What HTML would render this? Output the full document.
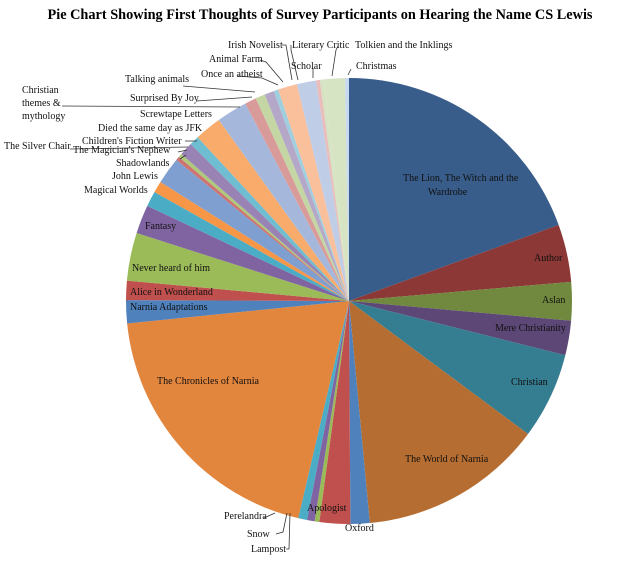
<!DOCTYPE html>
<html><head><meta charset="utf-8"><style>
html,body{margin:0;padding:0;background:#fff;}
svg{display:block;font-family:"Liberation Serif",serif;}
</style></head><body>
<svg id="chart" width="640" height="565" viewBox="0 0 640 565">
<rect width="640" height="565" fill="#fff"/>
<text x="320" y="19" text-anchor="middle" font-size="14.3" font-weight="bold">Pie Chart Showing First Thoughts of Survey Participants on Hearing the Name CS Lewis</text>
<g id="slices"></g>
<g id="leaders" stroke="#333" stroke-width="0.8" fill="none">
<polyline points="282,45 286,45 292,80"/>
<polyline points="291,45 291,50 298,80"/>
<polyline points="260,60 266,62 283,82"/>
<polyline points="238,76 262,78 278,85"/>
<polyline points="183,86 255,92"/>
<polyline points="62,106 240,107"/>
<polyline points="197,101 252,97"/>
<polyline points="313,68 313,78"/>
<polyline points="338,46 336,50 332,76"/>
<polyline points="351,69 348,75"/>
<polyline points="185,141 197,141"/>
<polyline points="70,149 188,147"/>
<polyline points="178,152 187,150"/>
<polyline points="180,159 186,155"/>
<polyline points="264,518 275,513"/>
<polyline points="276,534 283,532 287,513"/>
<polyline points="286,549 289,549 290,513"/>
</g>
<g id="labels" font-size="10" fill="#111"></g>
</svg>
<script>
const categories=["The Lion, The Witch and the Wardrobe","Author","Aslan","Mere Christianity","Christian","The World of Narnia","Oxford","Apologist","Lampost","Snow","Perelandra","The Chronicles of Narnia","Narnia Adaptations","Alice in Wonderland","Never heard of him","Fantasy","Magical Worlds","Unlabelled A","John Lewis","Shadowlands","The Silver Chair","The Magician's Nephew","Children's Fiction Writer","Died the same day as JFK","Screwtape Letters","Christian themes & mythology","Surprised By Joy","Talking animals","Once an atheist","Animal Farm","Irish Novelist","Literary Critic","Scholar","Unlabelled B","Tolkien and the Inklings","Christmas"];
const values=[70,15,10,9,22.5,48,5,8,1.2,2,2.3,71,6,5,12.5,7.5,4,3,7,1,1,3.5,2.5,7,8,3,2.5,2.5,1.2,5,5,1,1,0,5.5,1];
const colors=["#385d8a","#8c3836","#71893f","#5c4776","#357d91","#b66d31","#4f81bd","#c0504d","#9bbb59","#8064a2","#4bacc6","#e2853d","#4f81bd","#c0504d","#9bbb59","#8064a2","#4bacc6","#f79646","#7f9fd0","#cd7371","#afc97a","#9983b5","#6fbdd1","#f9ab6b","#a5b8dc","#d99b9a","#c4d6a3","#b4a7c8","#9fcfdf","#fac09c","#bfcde7","#e8bdbc","#d6e3c3","#cfc5dc","#d7e4c4","#c6d9f1"];
const cx=349,cy=301,R=223;
const total=values.reduce((a,b)=>a+b,0);
function angleOf(v){return v/total*2*Math.PI;}
function pt(a,r){return [cx+r*Math.sin(a),cy-r*Math.cos(a)];}
const g=document.getElementById('slices');
let acc=0;
values.forEach((v,i)=>{
  if(v<=0)return;
  const a0=angleOf(acc),a1=angleOf(acc+v);acc+=v;
  const p0=pt(a0,R),p1=pt(a1,R);
  const large=(a1-a0)>Math.PI?1:0;
  const p=document.createElementNS('http://www.w3.org/2000/svg','path');
  p.setAttribute('d',`M${cx},${cy}L${p0[0]},${p0[1]}A${R},${R} 0 ${large} 1 ${p1[0]},${p1[1]}Z`);
  p.setAttribute('fill',colors[i]);
  
  
  g.appendChild(p);
});
const labelText=[["Irish Novelist",228,48],["Literary Critic",292,48],["Tolkien and the Inklings",355,48],["Animal Farm",209,62],["Scholar",291,69],["Christmas",356,69],["Once an atheist",201,77],["Talking animals",125,82],["Christian",22,93],["themes &",22,106],["mythology",22,119],["Surprised By Joy",130,101],["Screwtape Letters",140,117],["Died the same day as JFK",98,131],["Children's Fiction Writer",82,144],["The Silver Chair",4,149],["The Magician's Nephew",73,153],["Shadowlands",116,166],["John Lewis",112,179],["Magical Worlds",84,193],["Fantasy",145,229],["Never heard of him",132,271],["Alice in Wonderland",130,295],["Narnia Adaptations",130,310],["The Chronicles of Narnia",157,384],["The Lion, The Witch and the Wardrobe",403,181],["Wardrobe",428,195],["Author",534,261],["Aslan",542,303],["Mere Christianity",495,331],["Christian",511,385],["The World of Narnia",405,462],["Apologist",307,511],["Oxford",345,531],["Perelandra",224,519],["Snow",247,537],["Lampost",251,552]];
const lg=document.getElementById('labels');
labelText.forEach(l=>{
  const t=document.createElementNS('http://www.w3.org/2000/svg','text');
  t.setAttribute('x',l[1]);t.setAttribute('y',l[2]);
  t.textContent=l[0]=="The Lion, The Witch and the Wardrobe"?"The Lion, The Witch and the":l[0];
  
  
  lg.appendChild(t);
});
</script>
</body></html>
